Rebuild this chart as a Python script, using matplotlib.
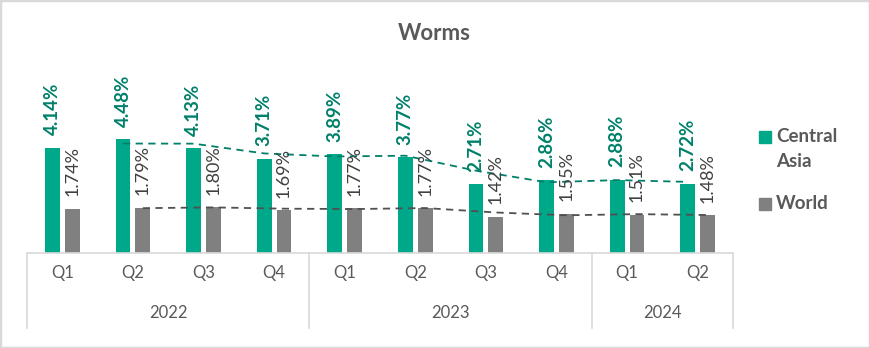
import matplotlib
matplotlib.use("Agg")
import matplotlib.pyplot as plt
import numpy as np
import pandas as pd
from matplotlib.patches import Rectangle

quarters = ["Q1", "Q2", "Q3", "Q4", "Q1", "Q2", "Q3", "Q4", "Q1", "Q2"]
years = ["2022", "2023", "2024"]
year_sizes = [4, 4, 2]
central_asia = [4.14, 4.48, 4.13, 3.71, 3.89, 3.77, 2.71, 2.86, 2.88, 2.72]
world = [1.74, 1.79, 1.80, 1.69, 1.77, 1.77, 1.42, 1.55, 1.51, 1.48]

green = "#00A88A"
green_dark = "#00806A"
grey = "#808080"
text_grey = "#595959"

plt.rcParams['font.family'] = ['Lato', 'DejaVu Sans']

fig = plt.figure(figsize=(8.7, 3.48), dpi=100)
fig.patches.append(Rectangle((0, 0), 1, 1, transform=fig.transFigure,
                             fill=False, edgecolor="#D9D9D9", linewidth=2.5))

ax_h = 193 / 348
ax = fig.add_axes([27 / 870, 95 / 348, 706 / 870, ax_h])
x = np.arange(len(quarters))
w = 0.21
gap = 0.035
xg = x - w / 2 - gap
xw = x + w / 2 + gap
ax.bar(xg, central_asia, w, color=green)
ax.bar(xw, world, w, color=grey)

# 2-period moving average trendlines
ma_ca = pd.Series(central_asia).rolling(2).mean()
ma_w = pd.Series(world).rolling(2).mean()
ax.plot(xg[1:], ma_ca[1:], ls=(0, (4, 3)), color=green_dark, lw=1.3)
ax.plot(xw[1:], ma_w[1:], ls=(0, (4, 3)), color="#505050", lw=1.3)

for i in range(len(x)):
    ax.annotate(f"{central_asia[i]:.2f}%", (xg[i], central_asia[i]),
                xytext=(0, 9), textcoords="offset points", rotation=90,
                ha="center", va="bottom", fontsize=13.5, fontweight="bold",
                color=green_dark)
    ax.annotate(f"{world[i]:.2f}%", (xw[i], world[i]),
                xytext=(0, 9), textcoords="offset points", rotation=90,
                ha="center", va="bottom", fontsize=13, color="#404040")

ax.set_xlim(-0.5, len(x) - 0.5)
ax.set_ylim(0, 193 / 25.4)
ax.axis("off")

# category axis box
tr = ax.get_xaxis_transform()
px = 1 / 193
ax.plot([-0.5, len(x) - 0.5], [0, 0], transform=tr, color="#D9D9D9", lw=1.2, clip_on=False)
edges = np.concatenate([[0], np.cumsum(year_sizes)]) - 0.5
for e in edges:
    ax.plot([e, e], [0, -75 * px], transform=tr, color="#D9D9D9", lw=1.2, clip_on=False)
for i, q in enumerate(quarters):
    ax.text(x[i], -20 * px, q, transform=tr, ha="center", va="center",
            fontsize=12, color=text_grey)
for k, yr in enumerate(years):
    ax.text((edges[k] + edges[k + 1]) / 2, -60 * px, yr, transform=tr,
            ha="center", va="center", fontsize=12, color=text_grey)

fig.text(434 / 870, 1 - 33 / 348, "Worms", ha="center", va="center",
         fontsize=16, fontweight="bold", color=text_grey)

# legend
fig.patches.append(Rectangle((759 / 870, 1 - 143 / 348), 12 / 870, 12 / 348,
                             transform=fig.transFigure, color=green))
fig.text(776 / 870, 1 - 137 / 348, "Central", ha="left", va="center",
         fontsize=13.5, fontweight="bold", color=text_grey)
fig.text(776 / 870, 1 - 162 / 348, "Asia", ha="left", va="center",
         fontsize=13.5, fontweight="bold", color=text_grey)
fig.patches.append(Rectangle((759 / 870, 1 - 210 / 348), 12 / 870, 12 / 348,
                             transform=fig.transFigure, color=grey))
fig.text(776 / 870, 1 - 204 / 348, "World", ha="left", va="center",
         fontsize=13.5, fontweight="bold", color=text_grey)

fig.savefig("out.png", dpi=100)
